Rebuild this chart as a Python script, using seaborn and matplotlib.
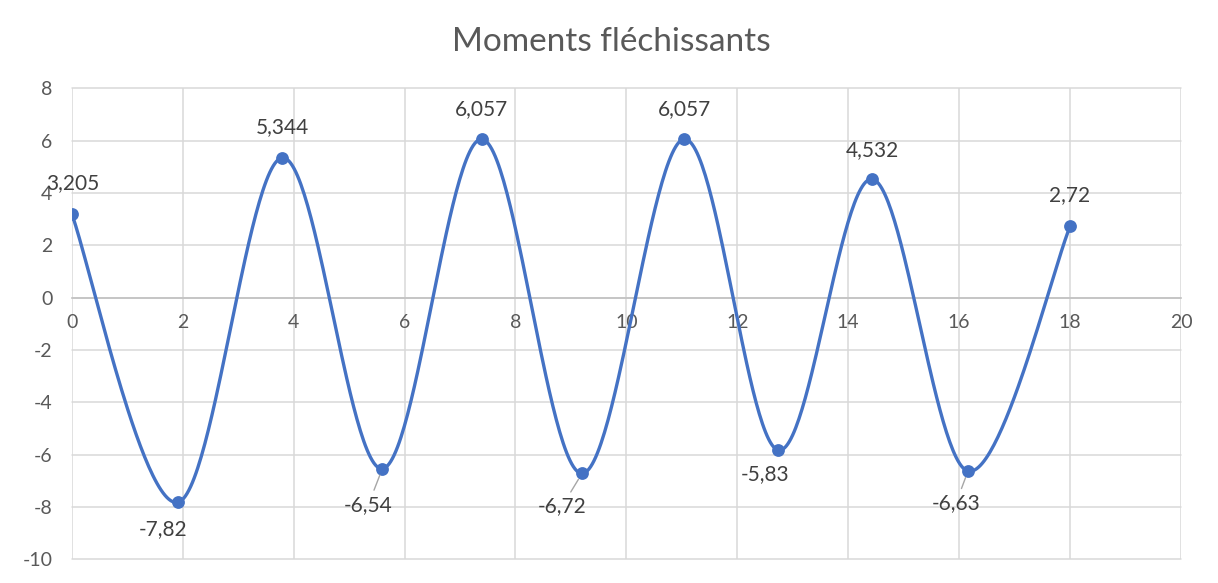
import numpy as np
import pandas as pd
import matplotlib
matplotlib.use("Agg")
import matplotlib.pyplot as plt
import seaborn as sns

# Bending moments along the beam
positions = [0.0, 1.92, 3.79, 5.60, 7.39, 9.20, 11.04, 12.74, 14.43, 16.16, 18.0]
moments = [3.205, -7.82, 5.344, -6.54, 6.057, -6.72, 6.057, -5.83, 4.532, -6.63, 2.72]
x_ticks = list(range(0, 21, 2))
y_ticks = list(range(-10, 9, 2))
title = "Moments fléchissants"

# label placement relative to each point (pixels) and whether a leader line is drawn
label_offsets = [(1, 31), (-15, -27), (0, 31), (-14, -36), (0, 30), (-20, -33),
                 (0, 30), (-13, -24), (0, 29), (-12, -32), (0, 31)]
leaders = [False, False, False, True, False, True, False, False, False, True, False]

BLUE = "#4472C4"
GRID = "#d9d9d9"
TEXT = "#595959"
LABEL = "#404040"


def smooth_curve(xs, ys, n=60):
    """Cubic Bezier smoothing through every point (Catmull-Rom style)."""
    pts = np.column_stack([xs, ys]).astype(float)
    out = []
    for i in range(len(pts) - 1):
        p0 = pts[i - 1] if i > 0 else pts[i]
        p1, p2 = pts[i], pts[i + 1]
        p3 = pts[i + 2] if i + 2 < len(pts) else pts[i + 1]
        c1 = p1 + (p2 - p0) / 6.0
        c2 = p2 - (p3 - p1) / 6.0
        t = np.linspace(0, 1, n)[:, None]
        seg = ((1 - t) ** 3) * p1 + 3 * ((1 - t) ** 2) * t * c1 \
            + 3 * (1 - t) * t ** 2 * c2 + t ** 3 * p2
        out.append(seg if i == 0 else seg[1:])
    return np.vstack(out)


sns.set_theme(style="white")
plt.rcParams["font.family"] = ["Lato", "DejaVu Sans"]
plt.rcParams["axes.unicode_minus"] = False

df = pd.DataFrame({"x": positions, "M": moments})
curve = smooth_curve(df["x"], df["M"])
curve_df = pd.DataFrame({"x": curve[:, 0], "M": curve[:, 1]})

fig = plt.figure(figsize=(12.18, 5.83), dpi=100)
ax = fig.add_axes([0.0589, 0.0407, 0.9107, 0.8078])

sns.lineplot(data=curve_df, x="x", y="M", sort=False, estimator=None,
             color=BLUE, linewidth=2.4, ax=ax, zorder=3)
sns.scatterplot(data=df, x="x", y="M", color=BLUE, s=85, edgecolor=BLUE,
                linewidth=0, ax=ax, zorder=4)

ax.set_xlim(0, 20)
ax.set_ylim(-10, 8)
ax.set_xticks(x_ticks)
ax.set_yticks(y_ticks)
ax.set_xlabel("")
ax.set_ylabel("")

ax.grid(True, color=GRID, linewidth=1.1)
for gl in ax.get_xgridlines() + ax.get_ygridlines():
    gl.set_clip_on(False)

for side in ["top", "right", "left"]:
    ax.spines[side].set_visible(False)
ax.spines["bottom"].set_position(("data", 0))
ax.spines["bottom"].set_color("#bfbfbf")
ax.spines["bottom"].set_linewidth(1.1)

ax.tick_params(axis="both", length=0, labelcolor=TEXT, labelsize=14)
ax.tick_params(axis="y", pad=14)
ax.tick_params(axis="x", pad=12)

for (xv, yv), (dx, dy), lead in zip(zip(positions, moments), label_offsets, leaders):
    txt = f"{yv:g}".replace(".", ",")
    arrow = dict(arrowstyle="-", color="#a6a6a6", lw=1.0, shrinkA=1, shrinkB=5) if lead else None
    ax.annotate(txt, xy=(xv, yv), xytext=(dx, dy), textcoords="offset pixels",
                ha="center", va="center", fontsize=15, color=LABEL,
                arrowprops=arrow, zorder=5)

fig.text(0.502, 0.928, title, ha="center", va="center", fontsize=24, color=TEXT)

fig.savefig("out.png", dpi=100, facecolor="white")
